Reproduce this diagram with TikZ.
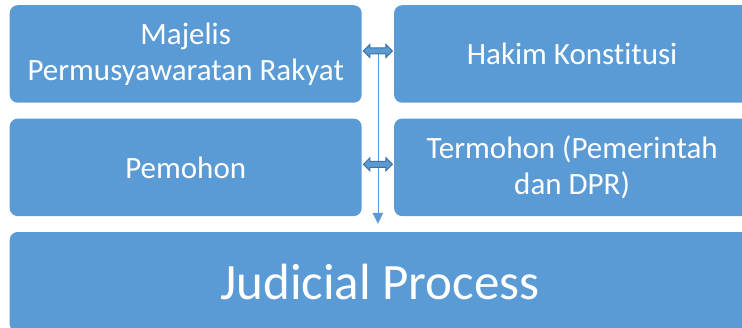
\documentclass[tikz,border=0pt]{standalone}
\usepackage{fontspec}
\setmainfont{Carlito}[Ligatures=NoCommon]
\usetikzlibrary{positioning,shapes.arrows,arrows.meta,calc}
\definecolor{boxblue}{HTML}{5B9BD5}
\definecolor{edgeblue}{HTML}{41719C}

\begin{document}
\begin{tikzpicture}[node distance=15.5pt and 32pt,
	block/.style={rectangle, rounded corners=8pt, fill=boxblue, text=white, align=center, minimum width=352pt, minimum height=97.5pt, font=\fontsize{31}{36}\selectfont},
	wideblock/.style={block, minimum width=356pt},
	dblarrow/.style={double arrow, draw=edgeblue, fill=boxblue, line width=1pt, minimum height=29pt, minimum width=0pt, text height=2.5pt, text depth=2.5pt, double arrow head extend=3.5pt, inner sep=0pt}]
	\useasboundingbox (0,0) rectangle (742pt,-327pt);
	\node[block, anchor=north west] (mpr) at (9.5pt,-5pt) {Majelis\\Permusyawaratan Rakyat};
	\node[wideblock] (hakim) [right=of mpr] {Hakim Konstitusi};
	\node[block] (pemohon) [below=of mpr] {Pemohon};
	\node[wideblock] (termohon) [below=of hakim] {Termohon (Pemerintah\\dan DPR)};
	\node[block, minimum width=740.5pt, minimum height=100pt, font=\fontsize{51}{60}\selectfont] (judicial) [below=of pemohon.south west, anchor=north west] {Judicial Process};
	
	\coordinate (top) at ($([yshift=3pt]mpr.east)!0.5!([yshift=3pt]hakim.west)$);
	\draw[boxblue, line width=0.8pt, shorten >=8pt, -{Triangle[length=11pt,width=10.6pt]}] (top) -- (top |- judicial.north);
	
	\path ([yshift=3pt]mpr.east) -- node[dblarrow] (a1) {} ([yshift=3pt]hakim.west)
	([yshift=3pt]pemohon.east) -- node[dblarrow] (a2) {} ([yshift=3pt]termohon.west);
\end{tikzpicture}
\end{document}
